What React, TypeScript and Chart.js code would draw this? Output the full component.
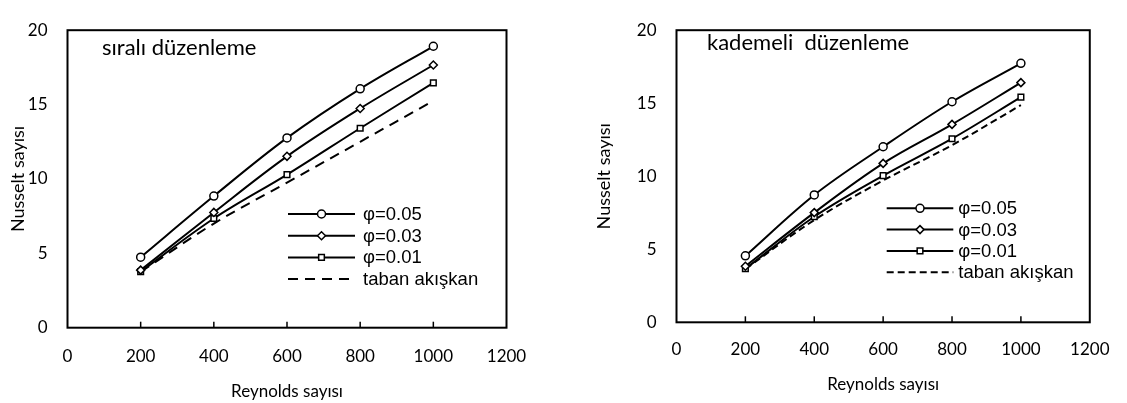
import React, { useEffect, useRef } from 'react';
import { Chart, registerables } from 'chart.js';
import { drawPoint } from 'chart.js/helpers';

Chart.register(...registerables);

// ---------- data ----------
const reynolds = [200, 400, 600, 800, 1000];
const xTicks = [0, 200, 400, 600, 800, 1000, 1200];
const yTicks = [0, 5, 10, 15, 20];
const seriesLabels = ['φ=0.05', 'φ=0.03', 'φ=0.01', 'taban akışkan'];
const seriesMarkers = ['circle', 'rectRot', 'rect', ''];

const siraliPhi005 = [4.74, 8.85, 12.76, 16.06, 18.92];
const siraliPhi003 = [3.87, 7.75, 11.52, 14.74, 17.66];
const siraliPhi001 = [3.77, 7.34, 10.29, 13.41, 16.46];
const siraliBase = [3.75, 7.0, 9.75, 12.5, 15.25];

const kademeliPhi005 = [4.55, 8.72, 12.02, 15.1, 17.73];
const kademeliPhi003 = [3.84, 7.51, 10.88, 13.55, 16.41];
const kademeliPhi001 = [3.67, 7.23, 10.04, 12.57, 15.42];
const kademeliBase = [3.65, 7.0, 9.71, 12.13, 14.87];

const xTitle = 'Reynolds sayısı';
const yTitle = 'Nusselt sayısı';
const siraliNote = 'sıralı düzenleme';
const kademeliNote = 'kademeli  düzenleme';

// ---------- helpers ----------
const AXIS_FONT = 'Lato';
const LEGEND_FONT = "'Liberation Sans', Arial, sans-serif";

const decorPlugin = {
  id: 'decor',
  afterDatasetsDraw(chart: any, _args: any, opts: any) {
    const { ctx, chartArea: a, scales } = chart;
    ctx.save();
    ctx.strokeStyle = '#000';
    ctx.fillStyle = '#000';
    ctx.setLineDash([]);
    ctx.lineWidth = 2;
    ctx.strokeRect(a.left, a.top, a.right - a.left, a.bottom - a.top);
    // inner tick marks on the x axis
    ctx.lineWidth = 1.5;
    for (const v of xTicks) {
      if (v === xTicks[0] || v === xTicks[xTicks.length - 1]) continue;
      const x = scales.x.getPixelForValue(v);
      ctx.beginPath();
      ctx.moveTo(x, a.bottom);
      ctx.lineTo(x, a.bottom - 6);
      ctx.stroke();
    }
    // annotation text
    ctx.font = opts.noteFont;
    ctx.textBaseline = 'alphabetic';
    ctx.textAlign = 'left';
    ctx.fillText(opts.note, opts.noteX, opts.noteY);
    // legend
    const lg = opts.legend;
    ctx.font = lg.font;
    ctx.textBaseline = 'middle';
    chart.data.datasets.forEach((ds: any, i: number) => {
      const y = lg.y0 + i * lg.dy;
      const marker = seriesMarkers[i];
      ctx.strokeStyle = '#000';
      ctx.lineWidth = 2;
      ctx.setLineDash(marker ? [] : ds.borderDash || []);
      ctx.beginPath();
      ctx.moveTo(lg.x1, y);
      ctx.lineTo(lg.x2, y);
      ctx.stroke();
      ctx.setLineDash([]);
      if (marker) {
        ctx.fillStyle = '#fff';
        ctx.lineWidth = 1.5;
        drawPoint(ctx, { pointStyle: marker, radius: 4, borderWidth: 1.5, rotation: 0 }, (lg.x1 + lg.x2) / 2, y);
      }
      ctx.fillStyle = '#000';
      ctx.fillText(ds.label, lg.textX, y + 1);
    });
    ctx.restore();
  },
};

function buildConfig(p: any) {
  const seriesValues = p.series;
  const datasets = seriesValues.map((vals: number[], i: number) => {
    const marker = seriesMarkers[i];
    return {
      label: seriesLabels[i],
      data: reynolds.map((r, k) => ({ x: r, y: vals[k] })),
      borderColor: '#000',
      borderWidth: 2,
      borderDash: marker ? [] : p.dash,
      tension: 0.35,
      pointStyle: marker || 'circle',
      pointRadius: marker ? 4 : 0,
      pointBackgroundColor: '#fff',
      pointBorderColor: '#000',
      pointBorderWidth: 1.5,
      fill: false,
      order: marker ? i : 10,
    };
  });
  const tickFont = { family: AXIS_FONT, size: 17 };
  return {
    type: 'line',
    data: { datasets },
    plugins: [decorPlugin],
    options: {
      animation: false,
      responsive: false,
      events: [],
      layout: { padding: p.padding },
      plugins: {
        legend: { display: false },
        tooltip: { enabled: false },
        decor: {
          note: p.note,
          noteX: p.noteX,
          noteY: p.noteY,
          noteFont: `22px ${AXIS_FONT}`,
          legend: { ...p.legend, font: `18.5px ${LEGEND_FONT}` },
        },
      },
      scales: {
        x: {
          type: 'linear',
          min: xTicks[0],
          max: xTicks[xTicks.length - 1],
          afterBuildTicks: (s: any) => { s.ticks = xTicks.map((v) => ({ value: v })); },
          grid: { display: false, drawTicks: false },
          border: { display: false },
          ticks: { color: '#000', padding: p.xTickPad, font: tickFont, maxRotation: 0, callback: (v: any) => String(v) },
          title: { display: true, text: xTitle, color: '#000', font: tickFont, padding: { top: 0, bottom: p.xTitlePad } },
          afterFit: (s: any) => { s.height = p.xHeight; },
        },
        y: {
          type: 'linear',
          min: yTicks[0],
          max: yTicks[yTicks.length - 1],
          afterBuildTicks: (s: any) => { s.ticks = yTicks.map((v) => ({ value: v })); },
          grid: { display: false, drawTicks: false },
          border: { display: false },
          ticks: { color: '#000', padding: 20, font: tickFont, callback: (v: any) => String(v) },
          title: { display: true, text: yTitle, color: '#000', font: { family: AXIS_FONT, size: 18 }, padding: { top: p.yTitlePad, bottom: 0 } },
          afterFit: (s: any) => { s.width = p.yWidth; },
        },
      },
    },
  };
}

const leftParams = {
  series: [siraliPhi005, siraliPhi003, siraliPhi001, siraliBase],
  dash: [10, 7],
  padding: { left: 0, top: 18, right: 53.5, bottom: 0 },
  yWidth: 67.5,
  yTitlePad: 7,
  xHeight: 75.3,
  xTickPad: 19,
  xTitlePad: 1,
  note: siraliNote,
  noteX: 102,
  noteY: 55,
  legend: { x1: 288, x2: 355, textX: 363, y0: 214, dy: 21.7 },
};

const rightParams = {
  series: [kademeliPhi005, kademeliPhi003, kademeliPhi001, kademeliBase],
  dash: [7, 4],
  padding: { left: 0, top: 19, right: 27, bottom: 0 },
  yWidth: 116.5,
  yTitlePad: 33.7,
  xHeight: 80.7,
  xTickPad: 17.5,
  xTitlePad: 7.8,
  note: kademeliNote,
  noteX: 147,
  noteY: 50,
  legend: { x1: 326.7, x2: 393.3, textX: 398.3, y0: 208.3, dy: 21.3 },
};

function ChartPanel({ params, width, left }: any) {
  const ref = useRef<HTMLCanvasElement | null>(null);
  useEffect(() => {
    if (!ref.current) return;
    const chart = new Chart(ref.current, buildConfig(params) as any);
    return () => chart.destroy();
  }, []);
  return (
    <canvas
      ref={ref}
      width={width}
      height={403}
      style={{ position: 'absolute', left, top: 0, width, height: 403 }}
    />
  );
}

export default function App() {
  return (
    <div style={{ position: 'absolute', left: 0, top: 0, width: 1127, height: 403, background: '#fff' }}>
      <ChartPanel params={leftParams} width={560} left={0} />
      <ChartPanel params={rightParams} width={567} left={560} />
    </div>
  );
}
